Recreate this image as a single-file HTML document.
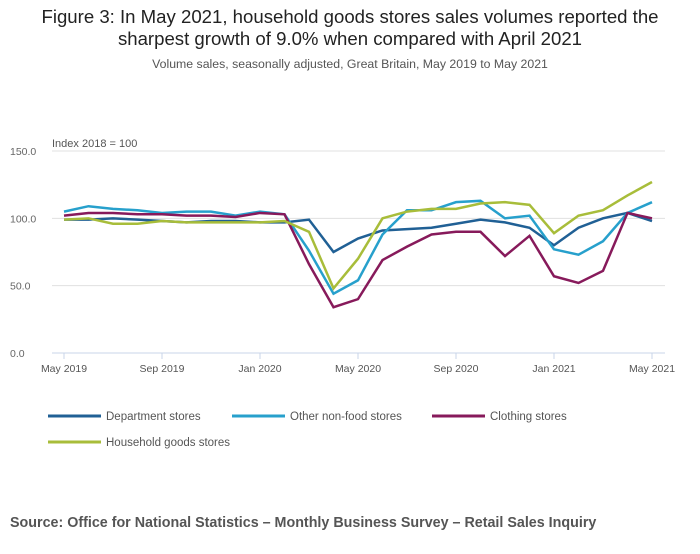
<!DOCTYPE html>
<html><head><meta charset="utf-8">
<style>
body{margin:0;background:#fff;width:700px;height:549px;overflow:hidden;font-family:"Liberation Sans",sans-serif;}
svg text{font-family:"Liberation Sans",sans-serif;}
</style></head>
<body>
<svg id="chart" width="700" height="549">
<text x="350" y="23" text-anchor="middle" font-size="18.6" fill="#222">Figure 3: In May 2021, household goods stores sales volumes reported the</text>
<text x="350" y="45" text-anchor="middle" font-size="18.6" fill="#222">sharpest growth of 9.0% when compared with April 2021</text>
<text x="350" y="68" text-anchor="middle" font-size="12.3" fill="#555">Volume sales, seasonally adjusted, Great Britain, May 2019 to May 2021</text>
<text x="52" y="147" font-size="11" fill="#555">Index 2018 = 100</text>
<g id="grid"></g><g id="xaxis"></g><g id="series"></g><g id="legend"></g>
<text x="10" y="527" font-size="14.3" font-weight="bold" fill="#555">Source: Office for National Statistics – Monthly Business Survey – Retail Sales Inquiry</text>
</svg>
<script>
const categories=["May 2019","Jun 2019","Jul 2019","Aug 2019","Sep 2019","Oct 2019","Nov 2019","Dec 2019","Jan 2020","Feb 2020","Mar 2020","Apr 2020","May 2020","Jun 2020","Jul 2020","Aug 2020","Sep 2020","Oct 2020","Nov 2020","Dec 2020","Jan 2021","Feb 2021","Mar 2021","Apr 2021","May 2021"];
const department=[99,99,100,99,98,97,98,98,97,97,99,75,85,91,92,93,96,99,97,93,80,93,100,104,98];
const otherNonFood=[105,109,107,106,104,105,105,102,105,103,76,44,54,88,106,106,112,113,100,102,77,73,83,104,112];
const clothing=[102,104,104,103,103,102,102,101,104,103,66,34,40,69,79,88,90,90,72,87,57,52,61,104,100];
const household=[99,100,96,96,98,97,97,97,97,98,90,48,70,100,105,107,107,111,112,110,89,102,106,117,127];
const yTicks=[0,50,100,150];
const yTickLabels=["0.0","50.0","100.0","150.0"];
const xTickIdx=[0,4,8,12,16,20,24];
const seriesNames=["Department stores","Other non-food stores","Clothing stores","Household goods stores"];
const seriesColors=["#206095","#27a0cc","#871a5b","#a8bd3a"];
const seriesData=[department,otherNonFood,clothing,household];

const NS="http://www.w3.org/2000/svg";
const x=i=>64+i*(652-64)/24;
const y=v=>353-v*(353-151)/150;
function mk(tag,attrs,parent){const e=document.createElementNS(NS,tag);for(const k in attrs)e.setAttribute(k,attrs[k]);parent.appendChild(e);return e;}
const grid=document.getElementById('grid');
yTicks.forEach((t,i)=>{
  if(t>0){const l=mk('line',{x1:52,x2:665,y1:y(t),y2:y(t),stroke:'#e0e0e0','stroke-width':1},grid);
  
  }
  const tx=mk('text',{x:10,y:y(t)+4,'font-size':10.5,fill:'#666'},grid);tx.textContent=yTickLabels[i];
  
  
});
const xa=document.getElementById('xaxis');
const ax=mk('line',{x1:52,x2:665,y1:353,y2:353,stroke:'#c8d4e8','stroke-width':1},xa);


xTickIdx.forEach(i=>{
  const t=mk('line',{x1:x(i),x2:x(i),y1:353,y2:359,stroke:'#c8d4e8'},xa);
  
  
  const tx=mk('text',{x:x(i),y:372,'text-anchor':'middle','font-size':10.5,fill:'#555'},xa);tx.textContent=categories[i];
  
  
});
const sg=document.getElementById('series');
seriesData.forEach((d,s)=>{
  const p=mk('polyline',{points:d.map((v,i)=>x(i)+','+y(v)).join(' '),fill:'none',stroke:seriesColors[s],'stroke-width':2.5,'stroke-linejoin':'miter'},sg);
  
  
});
const lg=document.getElementById('legend');
const lpos=[[48,416],[232,416],[432,416],[48,442]];
seriesNames.forEach((n,s)=>{
  const [lx,ly]=lpos[s];
  const l=mk('line',{x1:lx,x2:lx+53,y1:ly,y2:ly,stroke:seriesColors[s],'stroke-width':3},lg);
  
  
  const t=mk('text',{x:lx+58,y:ly+4,'font-size':11.5,fill:'#555'},lg);t.textContent=n;
  
  
});
</script>
</body></html>
